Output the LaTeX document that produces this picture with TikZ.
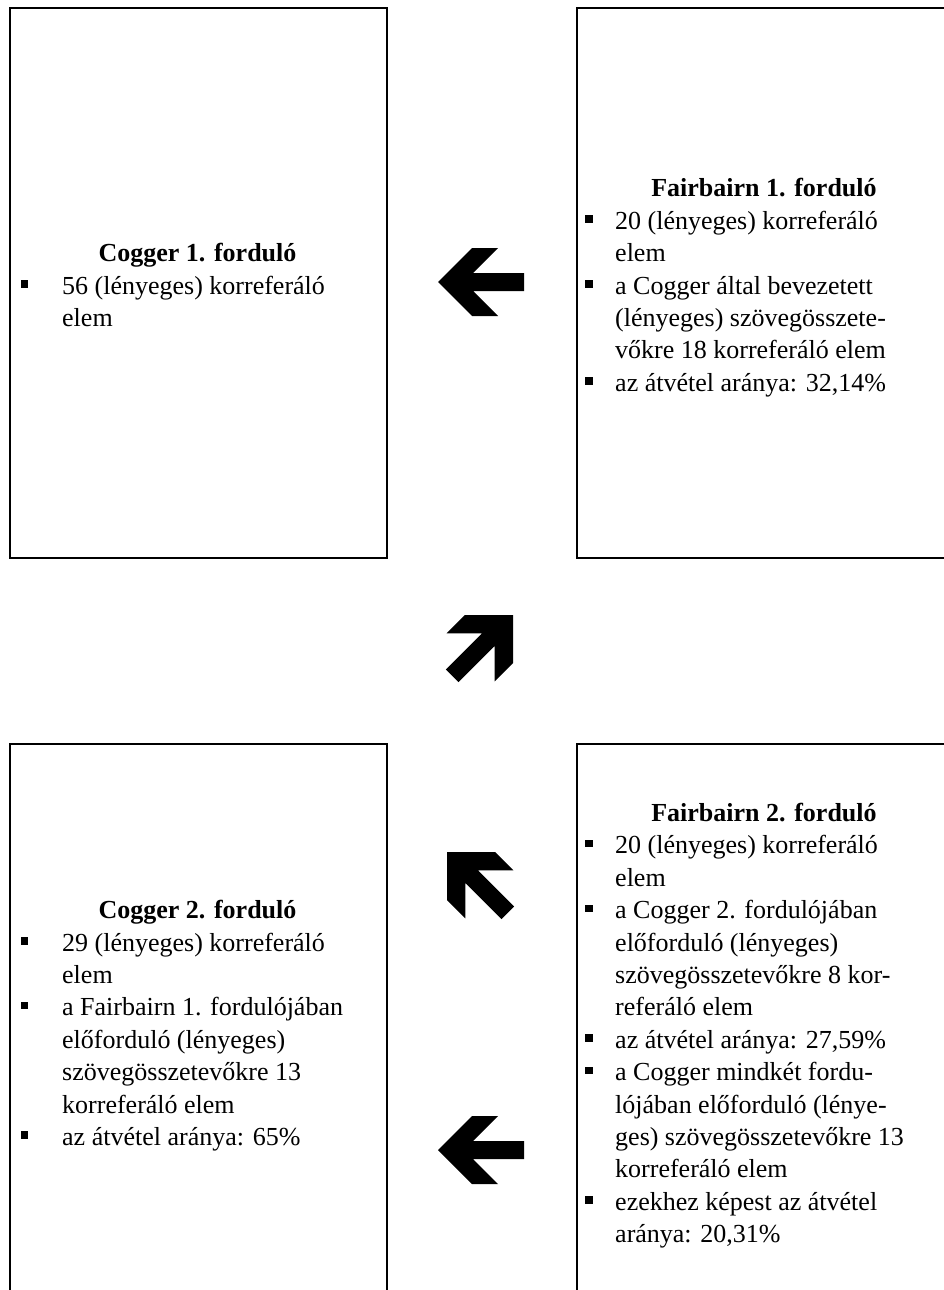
\documentclass[tikz,border=0pt]{standalone}
\usepackage{fontspec}
\setmainfont{Liberation Serif}
\newcommand{\bul}{\rule[6.5pt]{7.5pt}{7.5pt}}
\newcommand{\lb}[1]{\makebox[41.5pt][l]{#1}}
\newcommand{\rb}[1]{\makebox[30pt][l]{#1}}
\tikzset{
  x=1pt, y=1pt,
  box/.style={draw, line width=1.6pt, rectangle, inner sep=0pt, anchor=north west},
  head/.style={font=\fontsize{26}{32.4}\selectfont\bfseries, inner sep=0pt, anchor=base},
  body/.style={font=\fontsize{26}{32.4}\selectfont, inner sep=0pt, anchor=base west},
  blockarrow/.pic={\fill[black] (0,0)--(34,34)--(60,34)--(35,9)--(86,9)--(86,-9)--(35,-9)--(60,-34)--(34,-34)--cycle;}
}
\begin{document}
\begin{tikzpicture}
\useasboundingbox (0,0) rectangle (944,-1290);
\clip (0,0) rectangle (944,-1290);
% boxes
\node[box, minimum width=377pt, minimum height=550pt] (b1) at (9,-7) {};
\node[box, minimum width=377pt, minimum height=550pt] (b2) at (576,-7) {};
\node[box, minimum width=377pt, minimum height=560pt] (b3) at (9,-743) {};
\node[box, minimum width=377pt, minimum height=560pt] (b4) at (576,-743) {};
% top-left
\node[head] (h1) at (197.5,-261.6) {Cogger 1. forduló};
\node[body] (t1) at (20.5,-294) {\begin{tabular}[t]{@{}l@{}l@{}}
\lb{\bul} & 56 (lényeges) korreferáló\\
\lb{} & elem
\end{tabular}};
% top-right
\node[head] (h2) at (764,-196.8) {Fairbairn 1. forduló};
\node[body] (t2) at (585,-229.2) {\begin{tabular}[t]{@{}l@{}l@{}}
\rb{\bul} & 20 (lényeges) korreferáló\\
\rb{} & elem\\
\rb{\bul} & a Cogger által bevezetett\\
\rb{} & (lényeges) szövegösszete-\\
\rb{} & vőkre 18 korreferáló elem\\
\rb{\bul} & az átvétel aránya: 32,14\%
\end{tabular}};
% bottom-left
\node[head] (h3) at (197.5,-918.6) {Cogger 2. forduló};
\node[body] (t3) at (20.5,-951) {\begin{tabular}[t]{@{}l@{}l@{}}
\lb{\bul} & 29 (lényeges) korreferáló\\
\lb{} & elem\\
\lb{\bul} & a Fairbairn 1. fordulójában\\
\lb{} & előforduló (lényeges)\\
\lb{} & szövegösszetevőkre 13\\
\lb{} & korreferáló elem\\
\lb{\bul} & az átvétel aránya: 65\%
\end{tabular}};
% bottom-right
\node[head] (h4) at (764,-821.4) {Fairbairn 2. forduló};
\node[body] (t4) at (585,-853.8) {\begin{tabular}[t]{@{}l@{}l@{}}
\rb{\bul} & 20 (lényeges) korreferáló\\
\rb{} & elem\\
\rb{\bul} & a Cogger 2. fordulójában\\
\rb{} & előforduló (lényeges)\\
\rb{} & szövegösszetevőkre 8 kor-\\
\rb{} & referáló elem\\
\rb{\bul} & az átvétel aránya: 27,59\%\\
\rb{\bul} & a Cogger mindkét fordu-\\
\rb{} & lójában előforduló (lénye-\\
\rb{} & ges) szövegösszetevőkre 13\\
\rb{} & korreferáló elem\\
\rb{\bul} & ezekhez képest az átvétel\\
\rb{} & aránya: 20,31\%
\end{tabular}};
% arrows
\pic (a1) at (438,-282) {blockarrow};
\pic[rotate=-135] (a2) at (513,-615) {blockarrow};
\pic[rotate=-45] (a3) at (447,-852) {blockarrow};
\pic (a4) at (438,-1150) {blockarrow};
\end{tikzpicture}
\end{document}
